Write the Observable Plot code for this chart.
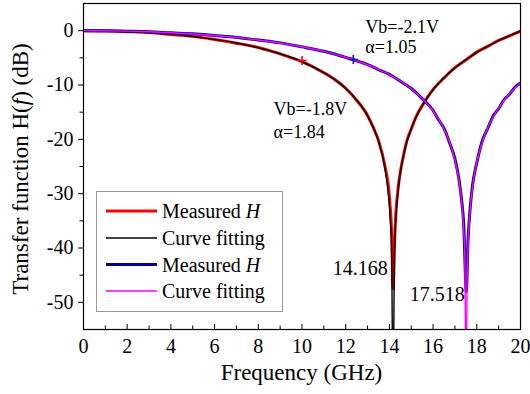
<!DOCTYPE html>
<html><head><meta charset="utf-8">
<script src="https://cdn.jsdelivr.net/npm/d3@7"></script>
<script src="https://cdn.jsdelivr.net/npm/@observablehq/plot@0.6"></script>
<style>body{margin:0;background:#fff}</style>
</head><body>
<div id="chart"></div>
<script>
// ---- data ----
const redFitF  = [0,1,2,3,4,5,6,7,8,9,10,11,11.5,12,12.5,13,13.25,13.5,13.8,14.0,14.05,14.1,14.168,14.23,14.3,14.4,14.5,14.65,14.8,15,15.25,15.5,16,16.5,17,17.5,18,18.5,19,19.5,20];
const redFitH  = [0,-0.04,-0.16,-0.37,-0.67,-1.07,-1.60,-2.27,-3.14,-4.25,-5.72,-7.72,-9.02,-10.64,-12.75,-15.67,-17.68,-20.36,-25.44,-32.18,-35.25,-40.0,-70,-40.8,-34.2,-29.29,-26.13,-22.83,-20.45,-18.00,-15.65,-13.77,-10.87,-8.66,-6.85,-5.33,-4.01,-2.85,-1.82,-0.90,-0.07];
const redMeasF = [0,1,2,3,4,5,6,7,8,9,10,11,11.5,12,12.5,13,13.25,13.5,13.8,14.0,14.1,14.17,14.25,14.3,14.4,14.5,14.65,14.8,15,15.25,15.5,16,16.5,17,17.5,18,18.5,19,19.5,20];
const redMeasH = [0,-0.05,-0.18,-0.35,-0.70,-1.05,-1.62,-2.30,-3.10,-4.28,-5.70,-7.75,-9.0,-10.6,-12.8,-15.6,-17.7,-20.2,-25.0,-30.5,-37.0,-47.5,-37.5,-33.5,-29.0,-26.0,-22.9,-20.3,-18.1,-15.6,-13.8,-10.8,-8.7,-6.8,-5.4,-3.95,-2.9,-1.8,-0.95,-0.1];
const blueFitF  = [0,1,2,3,4,5,6,7,8,9,10,11,12,13,13.5,14,14.5,15,15.5,16,16.25,16.5,16.75,17,17.2,17.3,17.4,17.45,17.518,17.55,17.6,17.7,17.8,18,18.25,18.5,18.75,19,19.25,19.5,19.75,20];
const blueFitH  = [0,-0.02,-0.09,-0.21,-0.38,-0.60,-0.89,-1.26,-1.71,-2.27,-2.96,-3.81,-4.89,-6.27,-7.11,-8.10,-9.27,-10.68,-12.45,-14.78,-16.28,-18.10,-20.50,-23.84,-28.04,-31.30,-36.6,-41.36,-70,-47.94,-39.7,-32.75,-28.9,-24.18,-20.50,-17.91,-15.89,-14.23,-12.85,-11.62,-10.54,-9.59];
const blueMeasF = [0,1,2,3,4,5,6,7,8,9,10,11,12,13,13.5,14,14.5,15,15.5,16,16.25,16.5,16.75,17,17.2,17.3,17.4,17.52,17.6,17.7,17.8,18,18.25,18.5,18.75,19,19.25,19.5,19.75,20];
const blueMeasH = [0,-0.03,-0.10,-0.20,-0.40,-0.58,-0.90,-1.24,-1.73,-2.25,-2.98,-3.80,-4.92,-6.25,-7.15,-8.05,-9.30,-10.65,-12.5,-14.7,-16.4,-18.0,-20.6,-23.6,-27.8,-31.0,-35.5,-48.0,-38.5,-32.5,-28.6,-24.3,-20.3,-18.0,-15.7,-14.35,-12.7,-11.7,-10.4,-9.65];
const markerF = [10, 12.35];
const markerH = [-5.5, -5.3];
const markerColors = ["#ff0000", "#1a1aa0"];

const xMajor = [0,2,4,6,8,10,12,14,16,18,20];
const xMinor = [1,3,5,7,9,11,13,15,17,19];
const yMajor = [0,-10,-20,-30,-40,-50];
const yMinor = [-5,-15,-25,-35,-45];

const annoText = ["Vb=-2.1V","α=1.05","Vb=-1.8V","α=1.84","14.168","17.518"];
const annoF    = [12.9, 12.9, 8.7, 8.7, 13.92, 17.45];
const annoH    = [-0.4, -4.2, -15.6, -19.8, -44.9, -49.7];

const legendLabels = ["Measured ", "Curve fitting", "Measured ", "Curve fitting"];
const legendItalic = ["H", "", "H", ""];
const legendColors = ["#ff0000", "#000000", "#00008b", "#ff00ff"];

// ---- build tables ----
const zip = (F, H) => F.map((f, i) => ({f, h: H[i]}));
const redFit = zip(redFitF, redFitH), redMeas = zip(redMeasF, redMeasH);
const blueFit = zip(blueFitF, blueFitH), blueMeas = zip(blueMeasF, blueMeasH);
const markers = markerF.map((f, i) => ({f, h: markerH[i], c: markerColors[i]}));
const annos = annoText.map((t, i) => ({t, f: annoF[i], h: annoH[i], i}));

const FONT = "Liberation Serif";
const W = 530, H = 394, ML = 83, MR = 10, MT = 3, MB = 65;
const plotW = W - ML - MR, plotH = H - MT - MB;

const chart = Plot.plot({
  width: W, height: H,
  marginLeft: ML, marginRight: MR, marginTop: MT, marginBottom: MB,
  style: "font-family: Liberation Serif; font-size: 20px; background: white; color: black",
  x: {domain: [0, 20], ticks: xMajor, tickSize: 0, tickPadding: 9, tickFormat: d => String(d), label: null},
  y: {domain: [-55, 5], ticks: yMajor, tickSize: 0, tickPadding: 10, tickFormat: d => String(d), label: null},
  marks: [
    Plot.line(redMeas, {x: "f", y: "h", stroke: "#ff0000", strokeWidth: 3, curve: "monotone-x", clip: true}),
    Plot.line(redFit, {x: "f", y: "h", stroke: "#000000", strokeWidth: 1.4, curve: "monotone-x", clip: true}),
    Plot.line(blueMeas, {x: "f", y: "h", stroke: "#00008b", strokeWidth: 3, curve: "monotone-x", clip: true}),
    Plot.line(blueFit, {x: "f", y: "h", stroke: "#ff00ff", strokeWidth: 1.4, curve: "monotone-x", clip: true}),
    Plot.dot(markers, {x: "f", y: "h", symbol: "plus", r: 3, stroke: "c", strokeWidth: 1.6}),
    Plot.text(annos.filter(d => d.i < 4), {x: "f", y: "h", text: "t", textAnchor: "start", lineAnchor: "bottom", fontSize: 18, fontFamily: FONT}),
    Plot.text(annos.filter(d => d.i >= 4), {x: "f", y: "h", text: "t", textAnchor: "end", lineAnchor: "bottom", fontSize: 20, fontFamily: FONT}),
    Plot.ruleX(xMajor, {x: d => d, insetTop: plotH - 5, stroke: "black", strokeWidth: 1}),
    Plot.ruleX(xMinor, {x: d => d, insetTop: plotH - 3.5, stroke: "black", strokeWidth: 1}),
    Plot.ruleY(yMajor, {y: d => d, insetLeft: -5, insetRight: plotW, stroke: "black", strokeWidth: 1}),
    Plot.ruleY(yMinor, {y: d => d, insetLeft: -3.5, insetRight: plotW, stroke: "black", strokeWidth: 1}),
    Plot.frame({stroke: "black", strokeWidth: 1.2})
  ]
});
document.getElementById("chart").appendChild(chart);

const svg = d3.select(chart);
svg.selectAll("text").attr("font-family", FONT);
// axis titles
svg.append("text").attr("x", ML + plotW / 2).attr("y", 380)
  .attr("text-anchor", "middle").attr("font-family", FONT).attr("font-size", 23).attr("fill", "black")
  .text("Frequency (GHz)");
const yt = svg.append("text").attr("transform", `translate(28,${MT + plotH / 2 + 3}) rotate(-90)`)
  .attr("text-anchor", "middle").attr("font-family", FONT).attr("font-size", 23).attr("fill", "black");
yt.append("tspan").text("Transfer function H(");
yt.append("tspan").attr("font-style", "italic").text("f");
yt.append("tspan").text(") (dB)");

// legend
const lg = svg.append("g");
lg.append("rect").attr("x", 96.5).attr("y", 191.5).attr("width", 186).attr("height", 120)
  .attr("fill", "white").attr("stroke", "#999").attr("stroke-width", 1);
const rowY = [211, 238, 264.5, 291];
legendLabels.forEach((lab, i) => {
  lg.append("line").attr("x1", 106).attr("x2", 157).attr("y1", rowY[i]).attr("y2", rowY[i])
    .attr("stroke", legendColors[i]).attr("stroke-width", i % 2 === 0 ? 3 : 1.4);
  const t = lg.append("text").attr("x", 162).attr("y", rowY[i] + 7).attr("text-anchor", "start")
    .attr("font-family", FONT).attr("font-size", 20).attr("fill", "black");
  t.append("tspan").text(lab);
  if (legendItalic[i]) t.append("tspan").attr("font-style", "italic").text(legendItalic[i]);
});
</script>
</body></html>
